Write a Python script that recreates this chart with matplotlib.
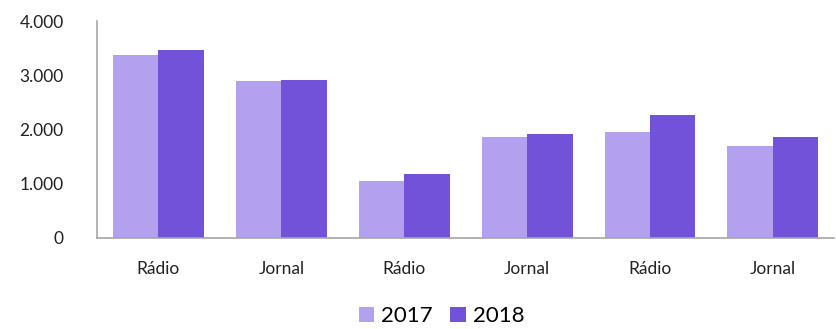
import numpy as np
import matplotlib.pyplot as plt
from matplotlib.ticker import FuncFormatter

categories = ["Rádio", "Jornal", "Rádio", "Jornal", "Rádio", "Jornal"]
values_2017 = [3370, 2895, 1050, 1865, 1960, 1690]
values_2018 = [3465, 2910, 1180, 1915, 2275, 1865]
series = ["2017", "2018"]

plt.rcParams['font.family'] = ['Lato', 'DejaVu Sans']

fig = plt.figure(figsize=(8.36, 3.29), dpi=100)
ax = fig.add_axes([0.116, 0.277, 0.882, 0.659])

x = np.arange(len(categories))
w = 0.37
ax.bar(x - w / 2, values_2017, w, color="#b3a1ef", label=series[0])
ax.bar(x + w / 2, values_2018, w, color="#7352da", label=series[1])

ax.set_xlim(-0.5, len(categories) - 0.5)
ax.set_ylim(0, 4000)
ax.set_yticks([0, 1000, 2000, 3000, 4000])
ax.yaxis.set_major_formatter(FuncFormatter(lambda v, p: f"{int(v):,}".replace(",", ".")))
ax.set_xticks(x)
ax.set_xticklabels(categories)
ax.tick_params(axis="both", length=0, labelsize=12.5, colors="#222222")
ax.tick_params(axis="x", pad=17)
ax.tick_params(axis="y", pad=24)

for s in ["top", "right"]:
    ax.spines[s].set_visible(False)
for s in ["left", "bottom"]:
    ax.spines[s].set_color("#a6a6a6")
    ax.spines[s].set_linewidth(1.2)

fig.legend(loc="lower center", bbox_to_anchor=(0.528, -0.052), ncol=2, frameon=False,
           fontsize=16, handlelength=0.7, handleheight=0.7, handletextpad=0.3,
           columnspacing=0.8)

fig.savefig("out.png", dpi=100)
